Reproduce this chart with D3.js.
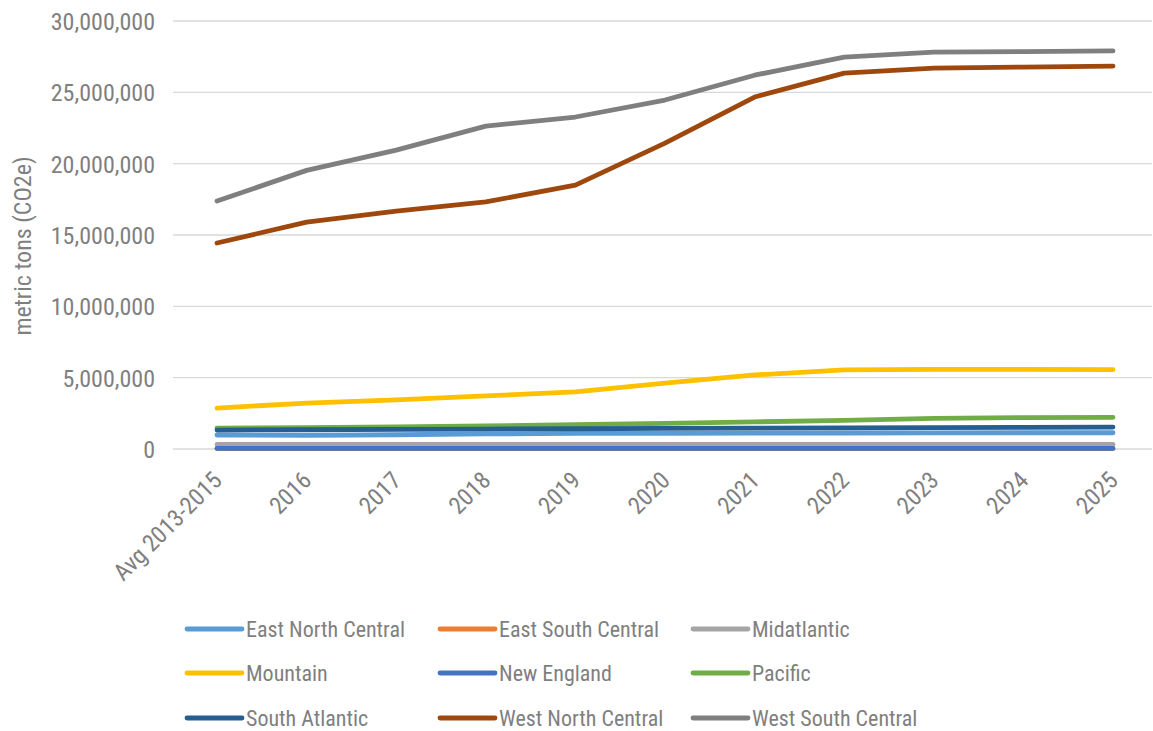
<!DOCTYPE html>
<html><head><meta charset="utf-8">
<script src="https://cdn.jsdelivr.net/npm/d3@7"></script>
<style>body{margin:0;background:#fff;} text{font-family:"Liberation Sans Narrow","Roboto Condensed","Arial Narrow",Roboto,sans-serif;fill:#7f7f7f;}</style>
</head><body><svg id="c" width="1153" height="731"></svg>
<script>
const categories = ["Avg 2013-2015","2016","2017","2018","2019","2020","2021","2022","2023","2024","2025"];
const yTicks = [0,5000000,10000000,15000000,20000000,25000000,30000000];
const seriesNames = ["East North Central","East South Central","Midatlantic","Mountain","New England","Pacific","South Atlantic","West North Central","West South Central"];
const seriesColors = ["#5b9bd5","#ed7d31","#a5a5a5","#ffc000","#4472c4","#70ad47","#255e91","#9e480e","#7f7f7f"];
const eastNorthCentral = [980000,960000,1000000,1060000,1090000,1100000,1110000,1120000,1130000,1140000,1140000];
const eastSouthCentral = [20000,20000,20000,20000,20000,20000,20000,20000,20000,20000,20000];
const midatlantic = [320000,320000,320000,320000,320000,320000,320000,320000,320000,320000,320000];
const mountain = [2870000,3220000,3450000,3720000,4000000,4620000,5190000,5540000,5580000,5580000,5560000];
const newEngland = [50000,50000,50000,50000,50000,50000,50000,50000,50000,50000,50000];
const pacific = [1470000,1500000,1550000,1620000,1700000,1800000,1900000,2000000,2150000,2200000,2220000];
const southAtlantic = [1330000,1350000,1370000,1400000,1420000,1440000,1460000,1480000,1500000,1520000,1540000];
const westNorthCentral = [14440000,15900000,16680000,17320000,18500000,21440000,24670000,26350000,26700000,26770000,26840000];
const westSouthCentral = [17380000,19530000,20950000,22630000,23270000,24460000,26200000,27470000,27820000,27860000,27900000];
const seriesValues = [eastNorthCentral,eastSouthCentral,midatlantic,mountain,newEngland,pacific,southAtlantic,westNorthCentral,westSouthCentral];

const svg = d3.select("#c");
const x = d3.scalePoint().domain(categories).range([217,1113]);
const y = d3.scaleLinear().domain([0,30000000]).range([449,21]);

svg.append("g").selectAll("line").data(yTicks).join("line")
  .attr("x1",173).attr("x2",1152).attr("y1",d=>y(d)).attr("y2",d=>y(d))
  .attr("stroke","#d9d9d9").attr("stroke-width",1.3);

const yAxis = d3.axisLeft(y).tickValues(yTicks).tickFormat(d3.format(",")).tickSize(0).tickPadding(0);
const ya = svg.append("g").attr("transform","translate(155,0)").call(yAxis);
ya.select(".domain").remove();
ya.selectAll("text").style("font-size","24px").attr("fill","#7f7f7f").attr("font-family",null).attr("dy","0.36em");

const xAxis = d3.axisBottom(x).tickSize(0).tickPadding(0);
const xa = svg.append("g").attr("transform","translate(0,470)").call(xAxis);
xa.select(".domain").remove();
xa.selectAll("text").style("font-size","24px").attr("fill","#7f7f7f").attr("font-family",null)
  .attr("text-anchor","end").attr("dy","0.7em").attr("y",0)
  .attr("transform","translate(-6,0) rotate(-45)");

svg.append("text").attr("transform","translate(31,246) rotate(-90)").attr("text-anchor","middle")
  .style("font-size","24px").text("metric tons (CO2e)");

const line = d3.line().x((d,i)=>x(categories[i])).y(d=>y(d));
svg.append("g").selectAll("path").data(seriesValues).join("path")
  .attr("d",line).attr("fill","none").attr("stroke",(d,i)=>seriesColors[i])
  .attr("stroke-width",4.8).attr("stroke-linecap","round").attr("stroke-linejoin","round");

const colX = [187,440,693], rowY = [629,673,718];
const lg = svg.append("g").selectAll("g").data(seriesNames).join("g")
  .attr("transform",(d,i)=>`translate(${colX[i%3]},${rowY[Math.floor(i/3)]})`);
lg.append("line").attr("x1",0).attr("x2",55).attr("y1",0).attr("y2",0)
  .attr("stroke",(d,i)=>seriesColors[i]).attr("stroke-width",4.8).attr("stroke-linecap","round");
lg.append("text").attr("x",59).attr("dy","0.36em").style("font-size","22px").text(d=>d);
</script></body></html>
